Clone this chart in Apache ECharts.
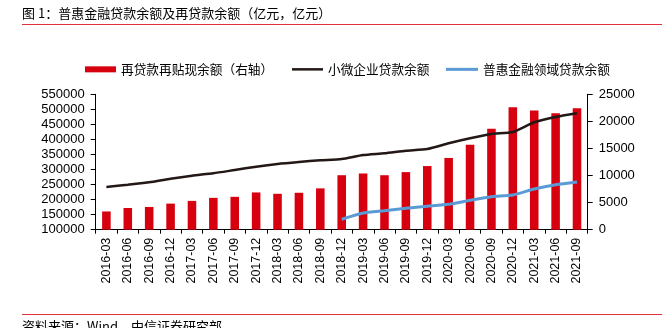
<!DOCTYPE html>
<html><head><meta charset="utf-8">
<script src="https://cdn.jsdelivr.net/npm/echarts@6/dist/echarts.min.js"></script>
<style>html,body{margin:0;padding:0;background:#fff}#c{width:665px;height:328px}</style>
</head><body><div id="c"></div>
<script>
const categories = ['2016-03','2016-06','2016-09','2016-12','2017-03','2017-06','2017-09','2017-12','2018-03','2018-06','2018-09','2018-12','2019-03','2019-06','2019-09','2019-12','2020-03','2020-06','2020-09','2020-12','2021-03','2021-06','2021-09'];
const relending = [3370,4010,4200,4820,5320,5880,6070,6880,6630,6820,7630,10060,10380,10060,10630,11750,13250,15690,18630,22620,22000,21500,22430];
const smallMicro = [242000,249600,257500,269500,279500,287500,298500,309400,318400,325000,330700,335000,348300,354000,362600,368300,387200,403800,418000,424800,457000,474700,487000];
const inclusive = [null,null,null,null,null,null,null,null,null,null,null,134600,155500,163200,171100,177800,184400,197700,209700,215300,235300,249600,258500];
const leftTicks = {min:100000,max:550000,interval:50000};
const rightTicks = {min:0,max:25000,interval:5000};
const names = ['再贷款再贴现余额（右轴）','小微企业贷款余额','普惠金融领域贷款余额'];
const title = '图 1：普惠金融贷款余额及再贷款余额（亿元，亿元）';
const source = '资料来源：Wind，中信证券研究部';

const font = '"Liberation Sans", Arial, "Noto Sans CJK SC", sans-serif';
const cjk = '"Noto Sans CJK SC", "Liberation Sans", sans-serif';
const chart = echarts.init(document.getElementById('c'), null, {renderer:'canvas'});
const axisCommon = {
  axisLine:{show:true,lineStyle:{color:'#000',width:1}},
  axisTick:{show:true,length:5,lineStyle:{color:'#000'}},
  splitLine:{show:false},
  axisLabel:{color:'#000',fontSize:13,fontFamily:font,margin:11,formatter:v=>String(v)}
};
const legendText = {fontSize:12.7,fontFamily:cjk,color:'#000'};
chart.setOption({
  animation:false,
  textStyle:{fontFamily:cjk},
  graphic:[
    {type:'text',left:22,top:7,style:{text:title,font:'13px '+cjk,fill:'#000'}},
    {type:'line',shape:{x1:22,y1:24.5,x2:662,y2:24.5},style:{stroke:'#E0303A',lineWidth:1}},
    {type:'line',shape:{x1:22,y1:314.5,x2:662,y2:314.5},style:{stroke:'#E0303A',lineWidth:1}},
    {type:'text',left:22,top:320,style:{text:source,font:'13px '+cjk,fill:'#000'}}
  ],
  legend:[
    {left:80,top:58,itemWidth:31,itemHeight:6,icon:'rect',textStyle:legendText,data:[names[0]]},
    {left:287,top:58,itemWidth:31,itemHeight:2.5,icon:'rect',textStyle:legendText,data:[names[1]]},
    {left:441,top:58,itemWidth:32,itemHeight:3,icon:'rect',textStyle:legendText,data:[names[2]]}
  ],
  grid:{left:95.7,right:77.3,top:94.3,bottom:98.3,containLabel:false},
  xAxis:{
    type:'category',data:categories,boundaryGap:true,
    axisLine:{show:true,lineStyle:{color:'#000'}},
    axisTick:{show:true,length:4,alignWithLabel:false,lineStyle:{color:'#000'}},
    axisLabel:{rotate:90,interval:0,fontSize:12.5,fontFamily:font,color:'#000',margin:8}
  },
  yAxis:[
    Object.assign({type:'value',position:'left'},leftTicks,axisCommon),
    Object.assign({type:'value',position:'right'},rightTicks,axisCommon)
  ],
  series:[
    {name:names[0],type:'bar',yAxisIndex:1,data:relending,barWidth:'40%',itemStyle:{color:'#D7000F'}},
    {name:names[1],type:'line',yAxisIndex:0,data:smallMicro,symbol:'none',smooth:0.2,lineStyle:{color:'#231815',width:2.5},itemStyle:{color:'#231815'}},
    {name:names[2],type:'line',yAxisIndex:0,data:inclusive,symbol:'none',smooth:0.2,lineStyle:{color:'#5B9BD5',width:3},itemStyle:{color:'#5B9BD5'}}
  ]
});
</script></body></html>
